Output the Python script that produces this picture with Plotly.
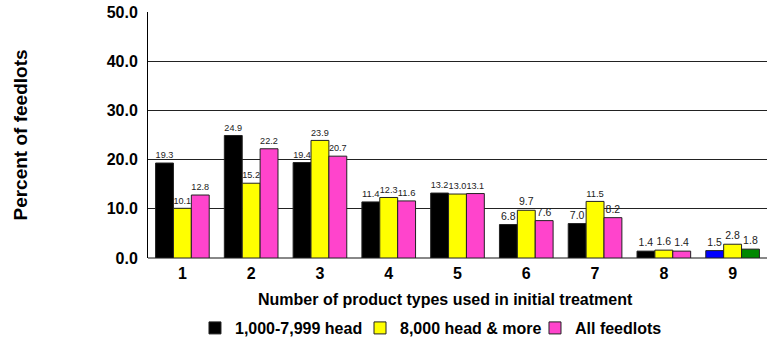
import plotly.graph_objects as go

categories = ["1", "2", "3", "4", "5", "6", "7", "8", "9"]
small_lots = [19.3, 24.9, 19.4, 11.4, 13.2, 6.8, 7.0, 1.4, 1.5]
large_lots = [10.1, 15.2, 23.9, 12.3, 13.0, 9.7, 11.5, 1.6, 2.8]
all_lots = [12.8, 22.2, 20.7, 11.6, 13.1, 7.6, 8.2, 1.4, 1.8]

series_names = ["1,000-7,999 head", "8,000 head & more", "All feedlots"]
small_colors = ["#000000"] * 8 + ["#0000ff"]
large_colors = ["#ffff00"] * 9
all_colors = ["#ff44cc"] * 8 + ["#008800"]

FONT = "Liberation Sans, Arial, sans-serif"
LEGEND_FONT = dict(family=FONT, size=16, color="#000000", weight="bold")

fig = go.Figure()
legend_ids = ["legend", "legend2", "legend3"]
legend_x = [0.0759, 0.3425, 0.6252]
for name, vals, cols, lid in [
    (series_names[0], small_lots, small_colors, legend_ids[0]),
    (series_names[1], large_lots, large_colors, legend_ids[1]),
    (series_names[2], all_lots, all_colors, legend_ids[2]),
]:
    fig.add_trace(go.Bar(
        x=categories, y=vals, name=name, legend=lid,
        marker=dict(color=cols, line=dict(color="#222222", width=1)),
        text=[f"{v:.1f}" for v in vals],
        textposition="outside",
        textfont=dict(family=FONT, size=10.5, color="#222222"),
        cliponaxis=False,
    ))

legend_common = dict(
    orientation="h", xanchor="left", yref="container",
    y=0.0437, yanchor="middle", font=LEGEND_FONT, bgcolor="rgba(0,0,0,0)",
)

fig.update_layout(
    width=767, height=343,
    margin=dict(l=148, r=0, t=12, b=85),
    paper_bgcolor="white", plot_bgcolor="white",
    barmode="group", bargap=0.22, bargroupgap=0,
    font=dict(family=FONT, color="#000000"),
    showlegend=True,
    legend=dict(x=legend_x[0], **legend_common),
    legend2=dict(x=legend_x[1], **legend_common),
    legend3=dict(x=legend_x[2], **legend_common),
    annotations=[dict(
        text="Number of product types used in initial treatment",
        xref="paper", yref="paper", x=0.4814, y=-0.17,
        xanchor="center", yanchor="middle", showarrow=False,
        font=dict(family=FONT, size=16, color="#000000", weight="bold"),
    )],
)
fig.update_xaxes(
    showgrid=False, showline=False, ticks="", ticklabelstandoff=4,
    tickfont=dict(family=FONT, size=16, weight="bold"),
)
fig.update_yaxes(
    range=[0, 50], dtick=10, tickformat=".1f",
    showgrid=True, gridcolor="#222222", gridwidth=1,
    showline=True, linecolor="#000000", linewidth=1,
    zeroline=True, zerolinecolor="#888888", zerolinewidth=2,
    ticks="", ticklabelstandoff=6,
    tickfont=dict(family=FONT, size=16, weight="bold"),
    title=dict(text="Percent of feedlots",
               font=dict(family=FONT, size=19, weight="bold"), standoff=74),
)

fig.write_html("out.html")
